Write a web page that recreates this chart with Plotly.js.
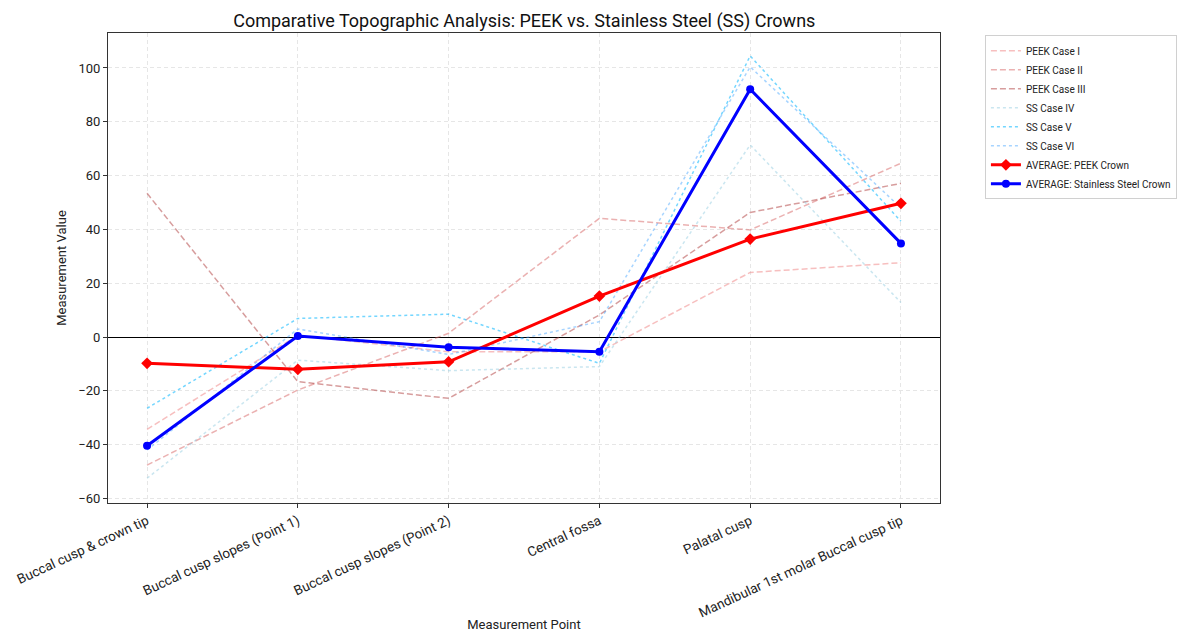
<!DOCTYPE html>
<html>
<head>
<meta charset="utf-8">
<script src="https://cdn.plot.ly/plotly-3.0.1.min.js"></script>
<style>html,body{margin:0;padding:0;background:#fff;}#chart{width:1197px;height:632px;}</style>
</head>
<body>
<div id="chart"></div>
<script>
const categories = ["Buccal cusp & crown tip", "Buccal cusp slopes (Point 1)", "Buccal cusp slopes (Point 2)", "Central fossa", "Palatal cusp", "Mandibular 1st molar Buccal cusp tip"];
const peekCase1 = [-34.3, 0.6, -5.5, -5.5, 24.0, 27.6];
const peekCase2 = [-47.6, -19.7, 1.4, 44.1, 39.8, 64.6];
const peekCase3 = [53.4, -16.6, -22.8, 8.2, 46.3, 57.1];
const ssCase4 = [-52.5, -8.6, -12.5, -11.0, 71.4, 12.8];
const ssCase5 = [-26.5, 6.9, 8.5, -9.8, 104.5, 43.0];
const ssCase6 = [-42.0, 3.0, -6.5, 5.7, 100.4, 48.0];
const avgPeek = [-9.8, -12.0, -9.2, 15.2, 36.4, 49.7];
const avgSS = [-40.4, 0.4, -3.8, -5.5, 92.1, 34.8];
const yTicks = [-60, -40, -20, 0, 20, 40, 60, 80, 100];

const xIdx = categories.map((c, i) => i);
function line(name, y, color, dash, width) {
  return {x: xIdx, y: y, name: name, type: 'scatter', mode: 'lines',
    line: {color: color, dash: dash, width: width}};
}
const traces = [
  line('PEEK Case I', peekCase1, 'rgba(240,128,128,0.5)', '6px,3px', 1.5),
  line('PEEK Case II', peekCase2, 'rgba(215,100,100,0.5)', '6px,3px', 1.5),
  line('PEEK Case III', peekCase3, 'rgba(175,60,60,0.5)', '6px,3px', 1.5),
  line('SS Case IV', ssCase4, 'rgba(150,205,225,0.5)', 'dot', 1.5),
  line('SS Case V', ssCase5, 'rgba(0,180,255,0.55)', 'dot', 1.5),
  line('SS Case VI', ssCase6, 'rgba(60,160,255,0.45)', 'dot', 1.5),
  {x: xIdx, y: avgPeek, name: 'AVERAGE: PEEK Crown', type: 'scatter', mode: 'lines+markers',
    line: {color: '#ff0000', width: 3}, marker: {symbol: 'diamond', size: 9, color: '#ff0000'}},
  {x: xIdx, y: avgSS, name: 'AVERAGE: Stainless Steel Crown', type: 'scatter', mode: 'lines+markers',
    line: {color: '#0000ff', width: 3}, marker: {symbol: 'circle', size: 8, color: '#0000ff'}}
];

const font = 'Roboto, "Open Sans", sans-serif';
const layout = {
  width: 1197, height: 632,
  margin: {l: 108, r: 257, t: 33, b: 129},
  paper_bgcolor: '#fff', plot_bgcolor: '#fff',
  font: {family: font, color: '#222', size: 12},
  title: {text: 'Comparative Topographic Analysis: PEEK vs. Stainless Steel (SS) Crowns',
    font: {size: 18, color: '#111', family: font}, x: 0.438, xanchor: 'center', y: 0.968, yanchor: 'middle'},
  xaxis: {
    range: [-0.259, 5.259], tickmode: 'array', tickvals: xIdx, ticktext: categories,
    tickangle: -25, ticks: 'outside', ticklen: 4, tickcolor: '#333',
    showgrid: true, gridcolor: '#e6e6e6', griddash: '4px,3px', gridwidth: 1,
    showline: true, linecolor: '#333', linewidth: 1, mirror: true, zeroline: false,
    tickfont: {size: 13.5, color: '#222'},
    title: {text: 'Measurement Point', font: {size: 13, color: '#222'}, standoff: 8}
  },
  yaxis: {
    range: [-61.7, 113], tickmode: 'array', tickvals: yTicks,
    ticks: 'outside', ticklen: 4, tickcolor: '#333',
    showgrid: true, gridcolor: '#e6e6e6', griddash: '4px,3px', gridwidth: 1,
    showline: true, linecolor: '#333', linewidth: 1, mirror: true,
    zeroline: true, zerolinecolor: '#000', zerolinewidth: 1,
    tickfont: {size: 13, color: '#222'},
    title: {text: 'Measurement Value', font: {size: 13, color: '#222'}, standoff: 8}
  },
  legend: {x: 1.054, y: 0.995, xanchor: 'left', yanchor: 'top',
    bordercolor: '#d0d0d0', borderwidth: 1, bgcolor: '#fff',
    font: {size: 10, color: '#222'}, tracegroupgap: 0, itemwidth: 30},
  showlegend: true
};
Plotly.newPlot('chart', traces, layout, {displayModeBar: false, staticPlot: true});
</script>
</body>
</html>
